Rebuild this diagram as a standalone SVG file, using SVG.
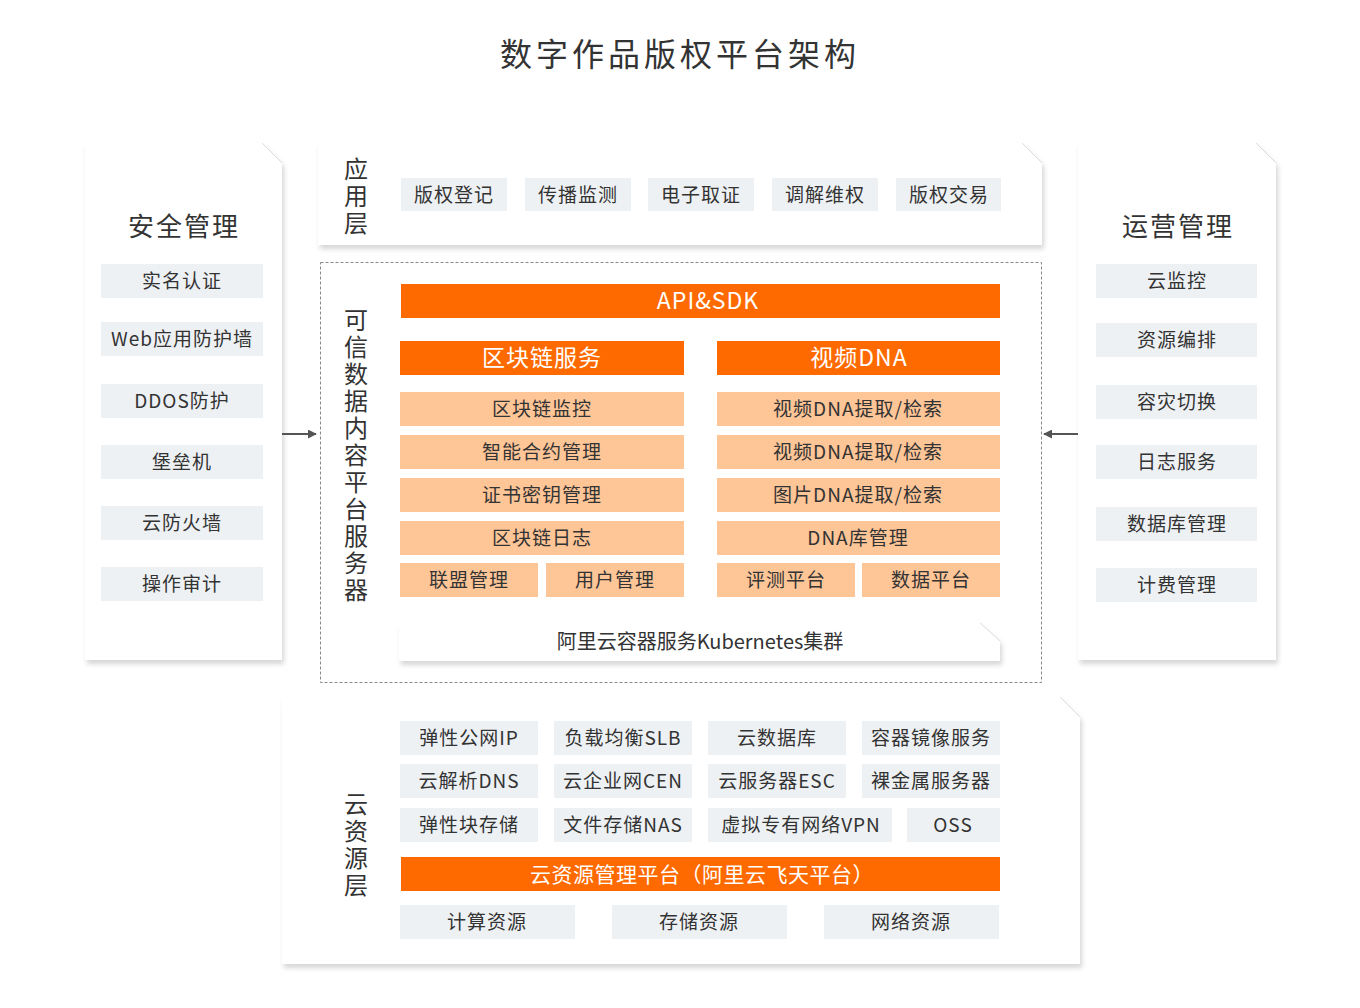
<svg xmlns="http://www.w3.org/2000/svg" width="1360" height="1008" viewBox="0 0 1360 1008">
<defs>
<filter id="sh" x="-10%" y="-10%" width="120%" height="130%">
<feDropShadow dx="2" dy="4" stdDeviation="2.5" flood-color="#000" flood-opacity="0.16"/>
</filter>
<marker id="arr" viewBox="0 0 10 10" refX="9" refY="5" markerWidth="9" markerHeight="9" markerUnits="userSpaceOnUse" orient="auto">
<path d="M0,0 L10,5 L0,10 Z" fill="#555"/>
</marker>
</defs>
<style>
text{font-family:"Noto Sans CJK SC","Noto Sans",sans-serif;fill:#333;text-anchor:middle}
.panel{fill:#fff;filter:url(#sh)}
.fold{fill:none;stroke:#ddd;stroke-width:1}
.g{fill:#eef1f4}
.o{fill:#ff6a00}
.lo{fill:#fec597}
.t{font-size:19px;letter-spacing:1px}
.tw{font-size:23px;fill:#fff;letter-spacing:1px}
.h{font-size:26px;letter-spacing:2px}
.v{font-size:24px;letter-spacing:3px;writing-mode:vertical-rl;text-anchor:start}
.dash{fill:none;stroke:#888;stroke-width:1;stroke-dasharray:3 2}
.conn{stroke:#555;stroke-width:2;fill:none}
</style>
<rect width="1360" height="1008" fill="#fff"/>
<text x="680" y="66" style="font-size:32px;letter-spacing:4px">数字作品版权平台架构</text>

<g id="security">
<path class="panel" d="M85,147 Q85,143 89,143 H262 L282,163 V660 H85 Z"/>
<path class="fold" d="M262,143 L282,163"/>
<text class="h" x="184" y="236">安全管理</text>
<rect class="g" x="101" y="264" width="162" height="34"/><text class="t" x="182" y="288">实名认证</text>
<rect class="g" x="101" y="322" width="162" height="34"/><text class="t" x="182" y="346">Web应用防护墙</text>
<rect class="g" x="101" y="384" width="162" height="34"/><text class="t" x="182" y="408">DDOS防护</text>
<rect class="g" x="101" y="445" width="162" height="34"/><text class="t" x="182" y="469">堡垒机</text>
<rect class="g" x="101" y="506" width="162" height="34"/><text class="t" x="182" y="530">云防火墙</text>
<rect class="g" x="101" y="567" width="162" height="34"/><text class="t" x="182" y="591">操作审计</text>
</g>

<g id="operations">
<path class="panel" d="M1078,147 Q1078,143 1082,143 H1256 L1276,163 V660 H1078 Z"/>
<path class="fold" d="M1256,143 L1276,163"/>
<text class="h" x="1178" y="236">运营管理</text>
<rect class="g" x="1096" y="264" width="161" height="34"/><text class="t" x="1177" y="288">云监控</text>
<rect class="g" x="1096" y="323" width="161" height="34"/><text class="t" x="1177" y="347">资源编排</text>
<rect class="g" x="1096" y="385" width="161" height="34"/><text class="t" x="1177" y="409">容灾切换</text>
<rect class="g" x="1096" y="445" width="161" height="34"/><text class="t" x="1177" y="469">日志服务</text>
<rect class="g" x="1096" y="507" width="161" height="34"/><text class="t" x="1177" y="531">数据库管理</text>
<rect class="g" x="1096" y="568" width="161" height="34"/><text class="t" x="1177" y="592">计费管理</text>
</g>

<g id="app-layer">
<path class="panel" d="M318,147 Q318,143 322,143 H1022 L1042,163 V245 H318 Z"/>
<path class="fold" d="M1022,143 L1042,163"/>
<text class="v" x="356" y="157">应用层</text>
<rect class="g" x="401" y="178" width="106" height="33"/><text class="t" x="454" y="202">版权登记</text>
<rect class="g" x="525" y="178" width="106" height="33"/><text class="t" x="578" y="202">传播监测</text>
<rect class="g" x="648" y="178" width="106" height="33"/><text class="t" x="701" y="202">电子取证</text>
<rect class="g" x="772" y="178" width="106" height="33"/><text class="t" x="825" y="202">调解维权</text>
<rect class="g" x="896" y="178" width="105" height="33"/><text class="t" x="949" y="202">版权交易</text>
</g>

<g id="trusted-platform">
<rect class="dash" x="320.5" y="262.5" width="721" height="420"/>
<text class="v" x="356" y="308">可信数据内容平台服务器</text>
<rect class="o" x="401" y="284" width="599" height="34"/><text class="tw" x="708" y="309">API&amp;SDK</text>
<rect class="o" x="400" y="341" width="284" height="34"/><text class="tw" x="542" y="366">区块链服务</text>
<rect class="o" x="717" y="341" width="283" height="34"/><text class="tw" x="859" y="366">视频DNA</text>
<rect class="lo" x="400" y="392" width="284" height="34"/><text class="t" x="542" y="416">区块链监控</text>
<rect class="lo" x="400" y="435" width="284" height="34"/><text class="t" x="542" y="459">智能合约管理</text>
<rect class="lo" x="400" y="478" width="284" height="34"/><text class="t" x="542" y="502">证书密钥管理</text>
<rect class="lo" x="400" y="521" width="284" height="34"/><text class="t" x="542" y="545">区块链日志</text>
<rect class="lo" x="400" y="563" width="138" height="34"/><text class="t" x="469" y="587">联盟管理</text>
<rect class="lo" x="546" y="563" width="138" height="34"/><text class="t" x="615" y="587">用户管理</text>
<rect class="lo" x="717" y="392" width="283" height="34"/><text class="t" x="858" y="416">视频DNA提取/检索</text>
<rect class="lo" x="717" y="435" width="283" height="34"/><text class="t" x="858" y="459">视频DNA提取/检索</text>
<rect class="lo" x="717" y="478" width="283" height="34"/><text class="t" x="858" y="502">图片DNA提取/检索</text>
<rect class="lo" x="717" y="521" width="283" height="34"/><text class="t" x="858" y="545">DNA库管理</text>
<rect class="lo" x="717" y="563" width="138" height="34"/><text class="t" x="786" y="587">评测平台</text>
<rect class="lo" x="862" y="563" width="138" height="34"/><text class="t" x="931" y="587">数据平台</text>
</g>

<g id="kubernetes">
<path class="panel" d="M399,627 Q399,623 403,623 H980 L1000,641 V661 H399 Z"/>
<path class="fold" d="M980,623 L1000,641"/>
<text x="700" y="649" style="font-size:20px">阿里云容器服务Kubernetes集群</text>
</g>

<g id="cloud-resource-layer">
<path class="panel" d="M282,701 Q282,697 286,697 H1060 L1080,717 V964 H282 Z"/>
<path class="fold" d="M1060,697 L1080,717"/>
<text class="v" x="356" y="792">云资源层</text>
<rect class="g" x="400" y="721" width="138" height="34"/><text class="t" x="469" y="745">弹性公网IP</text>
<rect class="g" x="554" y="721" width="138" height="34"/><text class="t" x="623" y="745">负载均衡SLB</text>
<rect class="g" x="708" y="721" width="138" height="34"/><text class="t" x="777" y="745">云数据库</text>
<rect class="g" x="862" y="721" width="138" height="34"/><text class="t" x="931" y="745">容器镜像服务</text>
<rect class="g" x="400" y="764" width="138" height="34"/><text class="t" x="469" y="788">云解析DNS</text>
<rect class="g" x="554" y="764" width="138" height="34"/><text class="t" x="623" y="788">云企业网CEN</text>
<rect class="g" x="708" y="764" width="138" height="34"/><text class="t" x="777" y="788">云服务器ESC</text>
<rect class="g" x="862" y="764" width="138" height="34"/><text class="t" x="931" y="788">裸金属服务器</text>
<rect class="g" x="400" y="808" width="138" height="34"/><text class="t" x="469" y="832">弹性块存储</text>
<rect class="g" x="554" y="808" width="138" height="34"/><text class="t" x="623" y="832">文件存储NAS</text>
<rect class="g" x="708" y="808" width="184" height="34"/><text class="t" x="801" y="832">虚拟专有网络VPN</text>
<rect class="g" x="907" y="808" width="93" height="34"/><text class="t" x="953" y="832">OSS</text>
<rect class="o" x="401" y="857" width="599" height="34"/><text class="tw" x="702" y="882" style="font-size:21px;letter-spacing:0.5px">云资源管理平台（阿里云飞天平台）</text>
<rect class="g" x="400" y="905" width="175" height="34"/><text class="t" x="487" y="929">计算资源</text>
<rect class="g" x="612" y="905" width="175" height="34"/><text class="t" x="699" y="929">存储资源</text>
<rect class="g" x="824" y="905" width="175" height="34"/><text class="t" x="911" y="929">网络资源</text>
</g>

<g id="connectors">
<line class="conn" x1="282" y1="434" x2="316" y2="434" marker-end="url(#arr)"/>
<line class="conn" x1="1078" y1="434" x2="1044" y2="434" marker-end="url(#arr)"/>
</g>
</svg>
